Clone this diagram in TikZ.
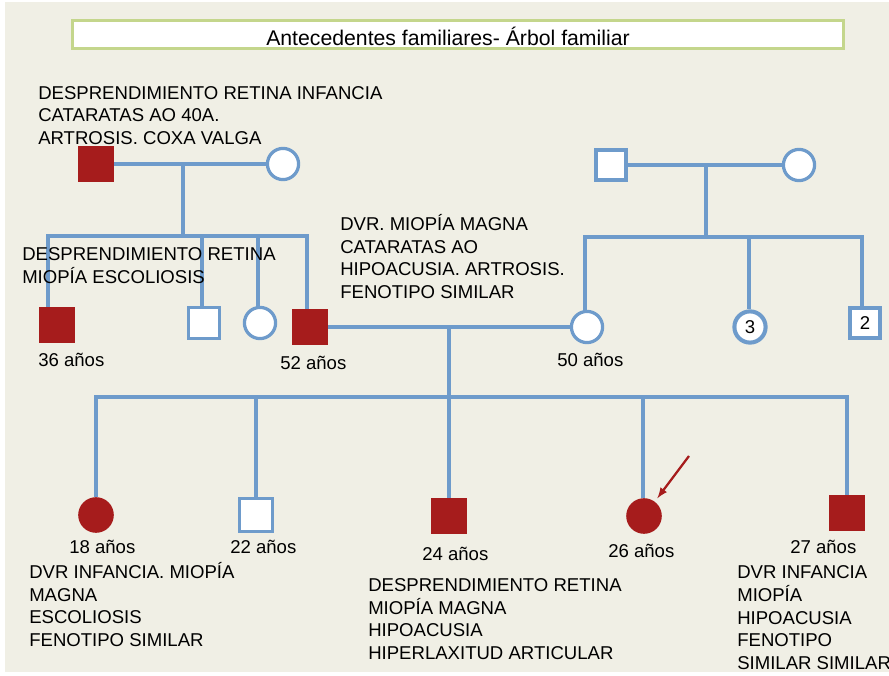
\documentclass[tikz,border=0pt]{standalone}
\usepackage{fontspec}
\setmainfont{Liberation Sans}
\usetikzlibrary{calc,arrows}
\definecolor{pedblue}{HTML}{6E9BCB}
\definecolor{pedred}{HTML}{A61C1C}
\definecolor{fondo}{HTML}{F0EFE5}
\definecolor{marco}{HTML}{C4D68C}

\begin{document}
\begin{tikzpicture}[x=0.025cm,y=-0.025cm,
    linea/.style={draw=pedblue,line width=2.3pt},
    varon/.style={rectangle,draw=pedblue,line width=2.3pt,fill=white,minimum size=0.78cm,inner sep=0pt},
    mujer/.style={circle,draw=pedblue,line width=2.3pt,fill=white,minimum size=0.78cm,inner sep=0pt},
    varonaf/.style={rectangle,fill=pedred,minimum size=0.9cm,inner sep=0pt},
    mujeraf/.style={circle,fill=pedred,minimum size=0.89cm,inner sep=0pt},
    nota/.style={anchor=base west,align=left,inner sep=0pt,font=\fontsize{13.2}{16.1}\selectfont},
    edad/.style={anchor=base west,inner sep=0pt,font=\fontsize{13.2}{16.1}\selectfont}]
  % fondo
  \fill[white] (0,0) rectangle (889,676);
  \fill[fondo] (5,2) rectangle (889,672);
  \useasboundingbox (0,0) rectangle (889,676);
  \node[draw=marco,line width=2.1pt,fill=white,minimum width=19.25cm,minimum height=0.72cm,inner sep=0pt](marcotit)at(458,34.5){};
  \node[inner sep=0pt,font=\fontsize{15.1}{18}\selectfont](titulo)at(448,36){Antecedentes familiares- Árbol familiar};

  % abuelos
  \node[varonaf](ab1)at(96,164){};
  \node[mujer](am1)at(283,164){};
  \node[varon,minimum size=0.75cm](ab2)at(611,165){};
  \node[mujer](am2)at(799,165){};
  \draw[linea] (ab1) -- (am1);
  \draw[linea] (ab2) -- (am2);

  % padres y tios
  \node[varonaf](t1)at(57,325){};
  \node[varon](t2)at(204,323){};
  \node[mujer](t3)at(260,323){};
  \node[varonaf](pa)at(310,327){};
  \node[mujer](ma)at(587,327){};
  \node[mujer,line width=2.9pt,font=\fontsize{13.2}{16}\selectfont](t4)at(750,327){3};
  \node[varon,minimum size=0.75cm,font=\fontsize{13.2}{16}\selectfont](t5)at(865,323){2};
  \draw[linea] (pa) -- (ma);

  \coordinate (d1) at (183,164);
  \coordinate (s1) at (48,236);
  \coordinate (s2) at (202,236);
  \coordinate (s3) at (258,236);
  \coordinate (s4) at (307,236);
  \draw[linea] (d1) -- (d1 |- s1);
  \draw[linea] (s1 |- t1.north) -- (s1) -- (s4) -- (s4 |- pa.north);
  \draw[linea] (s2) -- (s2 |- t2.north);
  \draw[linea] (s3) -- (s3 |- t3.north);

  \coordinate (d2) at (706,165);
  \coordinate (r1) at (585,237);
  \coordinate (r2) at (749,237);
  \coordinate (r3) at (862,237);
  \draw[linea] (d2) -- (d2 |- r1);
  \draw[linea] (r1 |- ma.north) -- (r1) -- (r3) -- (r3 |- t5.north);
  \draw[linea] (r2) -- (r2 |- t4.north);

  % hijos
  \node[mujeraf](h1)at(96,515){};
  \node[varon,minimum size=0.83cm](h2)at(256,515){};
  \node[varonaf](h3)at(449,516){};
  \node[mujeraf](h4)at(644,516){};
  \node[varonaf](h5)at(847,513){};

  \coordinate (d3) at (449,327);
  \coordinate (q1) at (96,397);
  \coordinate (q2) at (256,397);
  \coordinate (q4) at (643,397);
  \coordinate (q5) at (847,397);
  \draw[linea] (d3) -- (h3);
  \draw[linea] (h1) -- (q1) -- (q5) -- (h5);
  \draw[linea] (q2) -- (h2);
  \draw[linea] (q4) -- (q4 |- h4.north);

  % probando
  \coordinate (flecha) at (689,456);
  \draw[-latex,draw=pedred,line width=1.6pt,shorten >=0.1cm] (flecha) -- (h4);

  % textos (base = ultima linea)
  \node[nota](n1)at(38,144.5){DESPRENDIMIENTO RETINA INFANCIA\\CATARATAS AO 40A.\\ARTROSIS. COXA VALGA};
  \node[nota](n2)at(22,283.5){DESPRENDIMIENTO RETINA\\MIOPÍA ESCOLIOSIS};
  \node[nota](n3)at(340,298.5){DVR. MIOPÍA MAGNA\\CATARATAS AO\\HIPOACUSIA. ARTROSIS.\\FENOTIPO SIMILAR};
  \node[nota](n4)at(29,646.5){DVR INFANCIA. MIOPÍA\\MAGNA\\ESCOLIOSIS\\FENOTIPO SIMILAR};
  \node[nota](n5)at(368,659.5){DESPRENDIMIENTO RETINA\\MIOPÍA MAGNA\\HIPOACUSIA\\HIPERLAXITUD ARTICULAR};
  \node[nota](n6)at(737,669.5){DVR INFANCIA\\MIOPÍA\\HIPOACUSIA\\FENOTIPO\\SIMILAR SIMILAR};

  \node[edad](e1)at(38,366.5){36 años};
  \node[edad](e2)at(280,369.5){52 años};
  \node[edad](e3)at(557,366.5){50 años};
  \node[edad](e4)at(69,553.5){18 años};
  \node[edad](e5)at(230,553.5){22 años};
  \node[edad](e6)at(422,560.5){24 años};
  \node[edad](e7)at(608,557.5){26 años};
  \node[edad](e8)at(790,553.5){27 años};
\end{tikzpicture}
\end{document}
